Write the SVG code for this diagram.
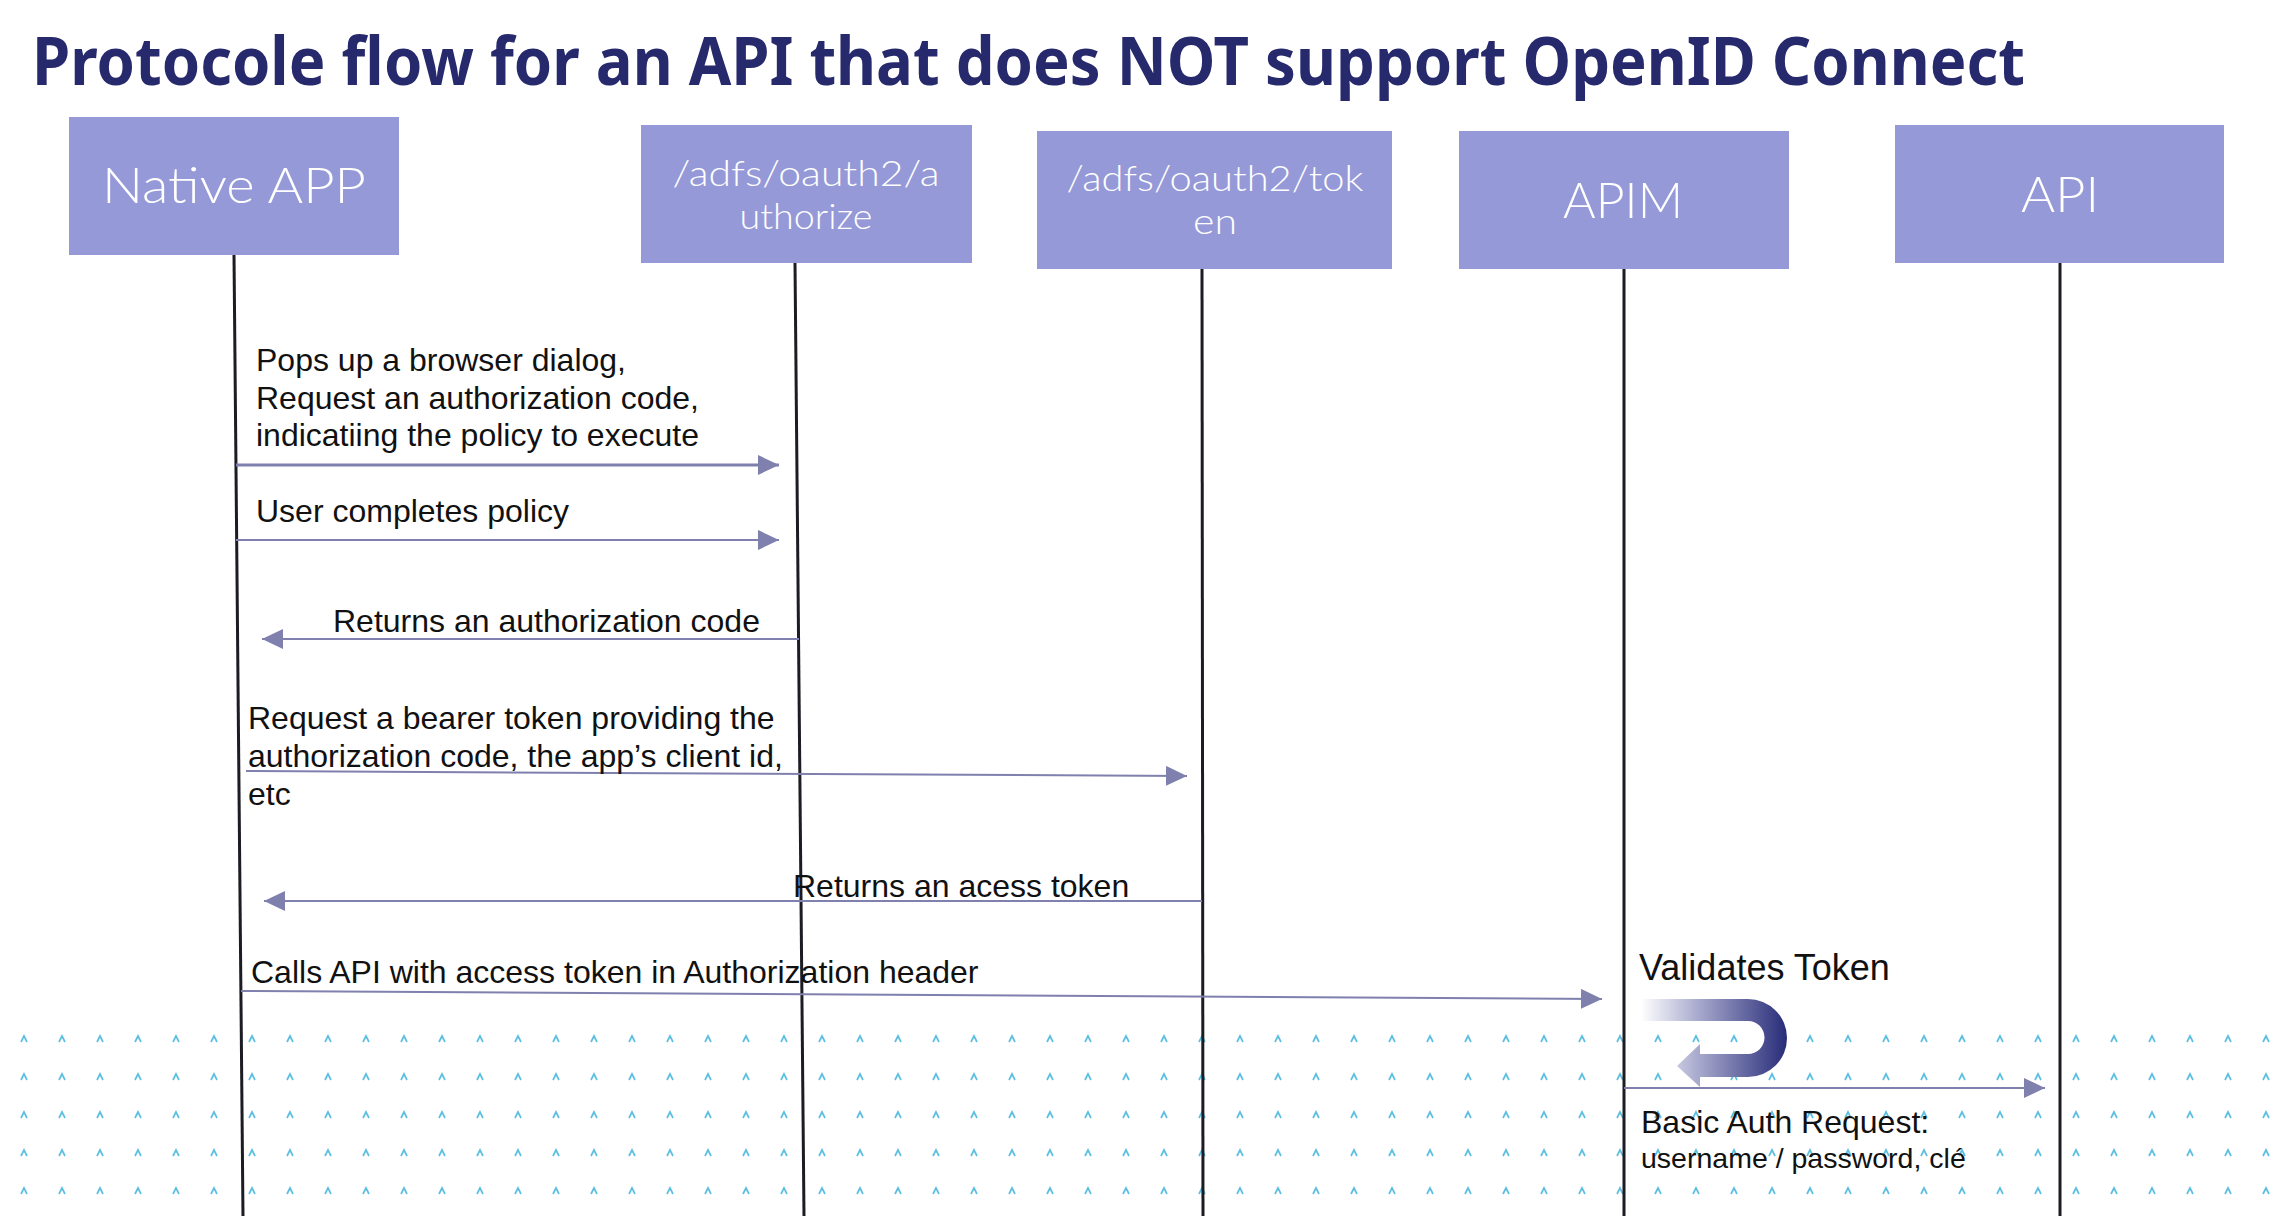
<svg xmlns="http://www.w3.org/2000/svg" width="2280" height="1216" viewBox="0 0 2280 1216">
<style>
.title{font-family:"Noto Sans","Liberation Sans",sans-serif;font-weight:bold;font-size:66px;fill:#27296d}
.box{fill:#9599d7}
.bt{font-family:Lato,"Noto Sans",sans-serif;font-weight:300;fill:#ffffff;text-anchor:middle}
.big{font-size:50px}
.small{font-size:36px}
.life{stroke:#1c1c24;stroke-width:3;fill:none}
.msg{stroke:#7f80ad;stroke-width:2;fill:none;marker-end:url(#ah)}
.lbl{font-family:"Liberation Sans",Arial,sans-serif;font-size:32px;fill:#111111}
</style>
<defs>
<marker id="ah" markerUnits="userSpaceOnUse" markerWidth="22" markerHeight="22" refX="21" refY="10" orient="auto" viewBox="0 0 22 22">
<path d="M0,0 L21,10 L0,20 Z" fill="#7f80ad"/>
</marker>
<pattern id="carets" patternUnits="userSpaceOnUse" x="0" y="0" width="38" height="38">
<polyline points="21,16 24,10 27,16" fill="none" stroke="#5cbfe0" stroke-width="1.7"/>
</pattern>
<linearGradient id="ug" gradientUnits="userSpaceOnUse" x1="1641" y1="0" x2="1787" y2="0">
<stop offset="0" stop-color="#ffffff"/>
<stop offset="0.4" stop-color="#a6a8cc"/>
<stop offset="1" stop-color="#282c78"/>
</linearGradient>
</defs>
<rect width="2280" height="1216" fill="#ffffff"/>
<rect x="0" y="1022" width="2280" height="185" fill="url(#carets)"/>

<text class="title" x="32" y="85" textLength="1993" lengthAdjust="spacingAndGlyphs">Protocole flow for an API that does NOT support OpenID Connect</text>

<g id="lifelines">
<line class="life" x1="234" y1="255" x2="243" y2="1216"/>
<line class="life" x1="795" y1="263" x2="804" y2="1216"/>
<line class="life" x1="1202" y1="269" x2="1203" y2="1216"/>
<line class="life" x1="1624" y1="269" x2="1624" y2="1216"/>
<line class="life" x1="2060" y1="263" x2="2060" y2="1216"/>
</g>

<g id="native-app">
<rect class="box" x="69" y="117" width="330" height="138"/>
<text class="bt big" x="234" y="203" textLength="264" lengthAdjust="spacingAndGlyphs">Native APP</text>
</g>
<g id="authorize">
<rect class="box" x="641" y="125" width="331" height="138"/>
<text class="bt small" x="806" y="186" textLength="267" lengthAdjust="spacingAndGlyphs">/adfs/oauth2/a</text>
<text class="bt small" x="806" y="229" textLength="133" lengthAdjust="spacingAndGlyphs">uthorize</text>
</g>
<g id="token">
<rect class="box" x="1037" y="131" width="355" height="138"/>
<text class="bt small" x="1215" y="191" textLength="297" lengthAdjust="spacingAndGlyphs">/adfs/oauth2/tok</text>
<text class="bt small" x="1215" y="234" textLength="44" lengthAdjust="spacingAndGlyphs">en</text>
</g>
<g id="apim">
<rect class="box" x="1459" y="131" width="330" height="138"/>
<text class="bt big" x="1623" y="218" textLength="120" lengthAdjust="spacingAndGlyphs">APIM</text>
</g>
<g id="api">
<rect class="box" x="1895" y="125" width="329" height="138"/>
<text class="bt big" x="2060" y="212" textLength="78" lengthAdjust="spacingAndGlyphs">API</text>
</g>

<g id="connectors">
<line class="msg" x1="236" y1="465" x2="779" y2="465" style="stroke-width:3.2"/>
<line class="msg" x1="236" y1="540" x2="779" y2="540"/>
<line class="msg" x1="799" y1="639" x2="262" y2="639"/>
<line class="msg" x1="246" y1="771" x2="1187" y2="776"/>
<line class="msg" x1="1202" y1="901" x2="264" y2="901"/>
<line class="msg" x1="241" y1="991" x2="1602" y2="999"/>
<line class="msg" x1="1624" y1="1088" x2="2045" y2="1088"/>
</g>

<g id="labels">
<text class="lbl" x="256" y="371">Pops up a browser dialog,</text>
<text class="lbl" x="256" y="409">Request an authorization code,</text>
<text class="lbl" x="256" y="446">indicatiing the policy to execute</text>
<text class="lbl" x="256" y="522">User completes policy</text>
<text class="lbl" x="333" y="632">Returns an authorization code</text>
<text class="lbl" x="248" y="729">Request a bearer token providing the</text>
<text class="lbl" x="248" y="767">authorization code, the app’s client id,</text>
<text class="lbl" x="248" y="805">etc</text>
<text class="lbl" x="793" y="897">Returns an acess token</text>
<text class="lbl" x="251" y="983">Calls API with access token in Authorization header</text>
<text class="lbl" x="1639" y="980" style="font-size:36px">Validates Token</text>
<text class="lbl" x="1641" y="1133">Basic Auth Request:</text>
<text class="lbl" x="1641" y="1168" style="font-size:28.5px">username / password, clé</text>
</g>

<g id="validate-loop">
<path d="M1641,999 L1748,999 A39,39 0 0 1 1748,1077 L1700,1077 L1700,1087 L1677,1066 L1700,1044 L1700,1054 L1748,1054 A16.5,16.5 0 0 0 1748,1021 L1641,1021 Z" fill="url(#ug)"/>
</g>
</svg>
